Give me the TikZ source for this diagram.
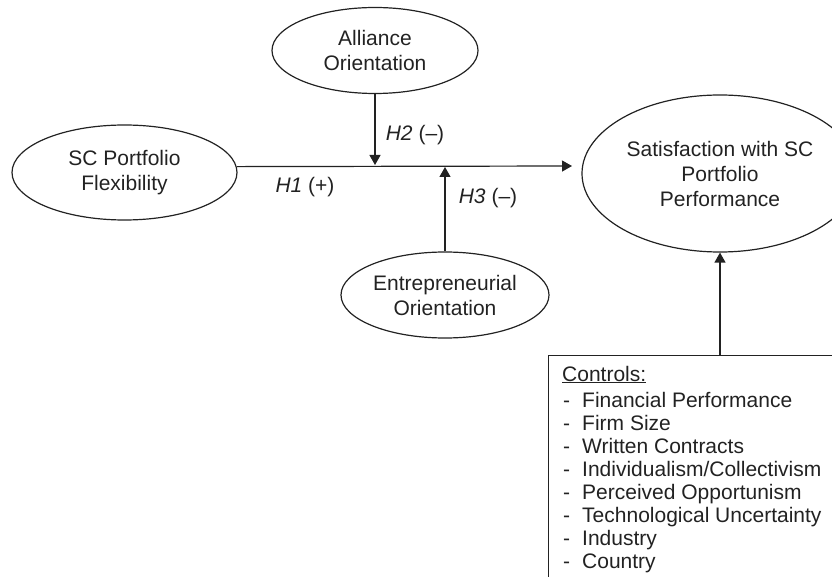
\documentclass[tikz,border=0pt]{standalone}
\usepackage{fontspec}
\setmainfont{Liberation Sans}
\usetikzlibrary{shapes.geometric,arrows.meta}
\definecolor{ink}{HTML}{222222}
\begin{document}
\begin{tikzpicture}[x=1pt,y=-1pt,
  every node/.style={font=\fontsize{21}{25}\selectfont, text=ink},
  construct/.style={ellipse, draw=ink, line width=1.2pt, inner sep=0pt, align=center},
  arr/.style={draw=ink, line width=1.2pt, -{Triangle[length=10pt,width=11pt]}},
  hlabel/.style={inner sep=0pt},
  ctrl/.style={anchor=base west, inner sep=0pt}]
\useasboundingbox (0,0) rectangle (832,577);
\clip (0,0) rectangle (832,577);
% constructs
\node[construct, minimum width=225pt, minimum height=95pt] (flex) at (124.5,172.5) {SC Portfolio\\Flexibility};
\node[construct, minimum width=206pt, minimum height=86pt] (ali) at (375,50.5) {Alliance\\Orientation};
\node[construct, minimum width=208pt, minimum height=86pt] (ent) at (445,295) {Entrepreneurial\\Orientation};
\node[construct, minimum width=276pt, minimum height=157pt] (sat) at (720,173.5) {Satisfaction with SC\\Portfolio\\Performance};
% controls box
\node[draw=ink, line width=1.2pt, anchor=north west, minimum width=400pt, minimum height=300pt, inner sep=0pt] (box) at (548,355) {};
\node[ctrl] (c0) at (562,381) {\underline{Controls:}};
\foreach \t [count=\i from 0] in {Financial Performance, Firm Size, Written Contracts, Individualism/Collectivism, Perceived Opportunism, Technological Uncertainty, Industry, Country}{
  \node[ctrl] (d\i) at (563,407+23.1*\i) {-};
  \node[ctrl] (c\i t) at (582,407+23.1*\i) {\t};
}
% connectors
\coordinate (tip) at (572,166);
\coordinate (j2) at (375,165);
\coordinate (j3) at (445,167);
\draw[arr] (flex.3.3) -- (tip);
\draw[arr] (ali.south) -- (j2);
\draw[arr] (ent.north) -- (j3);
\draw[arr] (sat.south |- box.north) -- (sat.south);
% labels
\node[hlabel] (h1) at (305,187) {\textit{H1} (+)};
\node[hlabel] (h2) at (415,135) {\textit{H2} (--)};
\node[hlabel] (h3) at (488,198) {\textit{H3} (--)};
\end{tikzpicture}
\end{document}
